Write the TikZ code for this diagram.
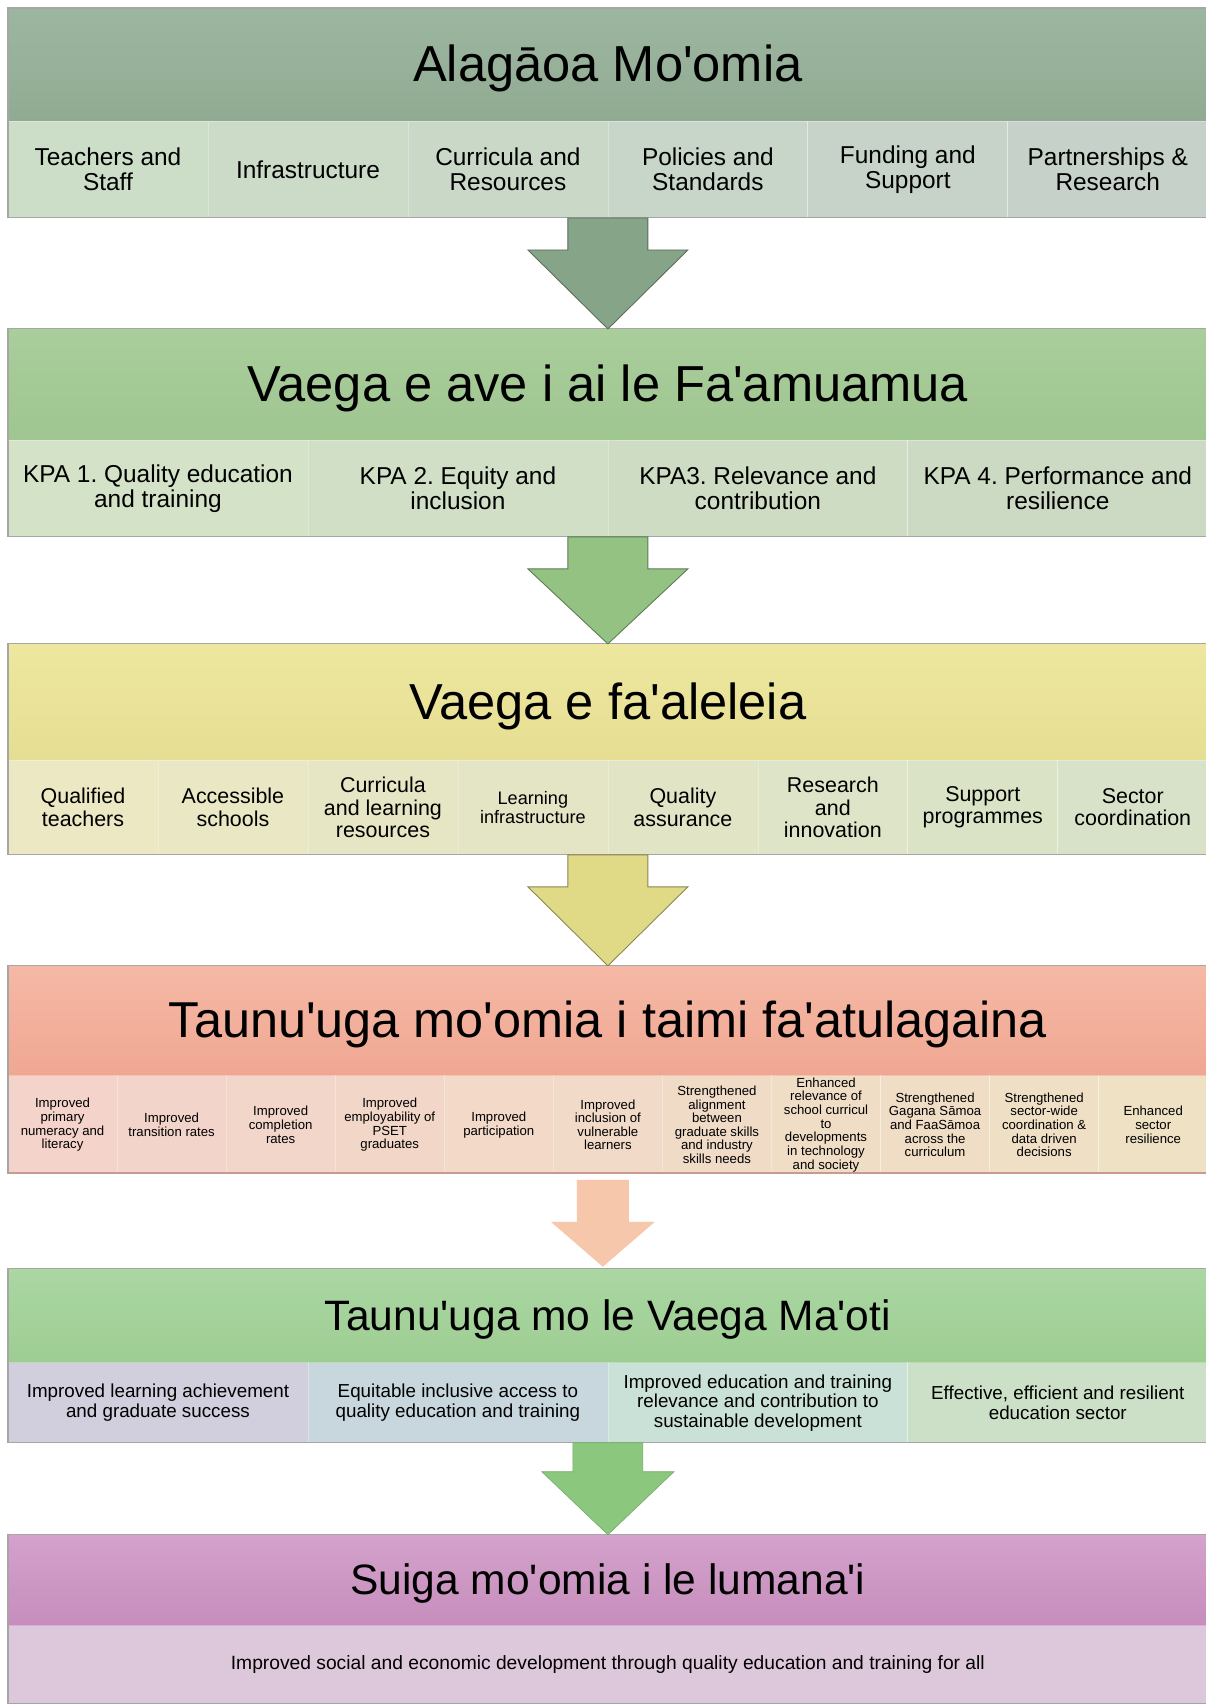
\documentclass[tikz,border=0pt]{standalone}
\usepackage{fontspec}
\setmainfont{Liberation Sans}[Ligatures=TeXOff]
\usepackage{xcolor}
\usepackage{tikz}
\usetikzlibrary{positioning, calc}
\frenchspacing
% header colours (top / bottom of the shading)
\definecolor{hAtop}{HTML}{9DB6A0}
\definecolor{hAbot}{HTML}{91AB93}
\definecolor{hBtop}{HTML}{A9CE9B}
\definecolor{hBbot}{HTML}{9FC591}
\definecolor{hCtop}{HTML}{EDE79F}
\definecolor{hCbot}{HTML}{E6DE92}
\definecolor{hDtop}{HTML}{F5B9A5}
\definecolor{hDbot}{HTML}{F0A792}
\definecolor{hEtop}{HTML}{AAD7A2}
\definecolor{hEbot}{HTML}{9ECD93}
\definecolor{hFtop}{HTML}{D4A2CC}
\definecolor{hFbot}{HTML}{C68DBC}
% row colours
\definecolor{rAl}{HTML}{CCDDC8}
\definecolor{rAr}{HTML}{C6D1C9}
\definecolor{rBl}{HTML}{D4E2C7}
\definecolor{rBr}{HTML}{CCD9C3}
\definecolor{rCl}{HTML}{ECE8C3}
\definecolor{rCr}{HTML}{D8E2C8}
\definecolor{rDl}{HTML}{F4D3CB}
\definecolor{rDr}{HTML}{EEE1C4}
\definecolor{rEa}{HTML}{D1CEDD}
\definecolor{rEb}{HTML}{C8D6DD}
\definecolor{rEc}{HTML}{C9E1D6}
\definecolor{rEd}{HTML}{CCE0C7}
\definecolor{rF}{HTML}{DDC7DA}
% arrow colours
\definecolor{arSage}{HTML}{86A588}
\definecolor{arSageD}{HTML}{5C6B5C}
\definecolor{arGreen}{HTML}{93C283}
\definecolor{arGreenD}{HTML}{5F7A55}
\definecolor{arYel}{HTML}{E0D986}
\definecolor{arYelD}{HTML}{8A8555}
\definecolor{arPeach}{HTML}{F6C7AB}
\definecolor{arLeaf}{HTML}{8CC77E}
\definecolor{arLeafD}{HTML}{78AF6B}
\definecolor{dsalmon}{HTML}{E98E78}

\begin{document}
\begin{tikzpicture}[
  x=0.02cm, y=-0.02cm,
  node distance=0pt,
  hdr/.style={rectangle, minimum width=24cm, inner sep=0pt, outer sep=0pt,
              align=center},
  bigtitle/.style={font=\fontsize{28.8}{30}\selectfont, text height=25.5pt, text depth=6pt},
  smalltitle/.style={font=\fontsize{24.2}{25}\selectfont, text height=21.3pt, text depth=5pt},
  cell/.style={rectangle, inner xsep=2pt, inner ysep=0pt, outer sep=0pt,
               align=center, draw=white, draw opacity=0.3, line width=0.4pt},
  cellA/.style={cell, minimum width=4cm, minimum height=1.94cm,
                font=\fontsize{13.9}{14.2}\selectfont},
  cellB/.style={cell, minimum width=6cm, minimum height=1.94cm,
                font=\fontsize{13.9}{14.2}\selectfont},
  cellC/.style={cell, minimum width=3cm, minimum height=1.9cm,
                font=\fontsize{12.2}{12.6}\selectfont},
  cellD/.style={cell, minimum width=2.1818cm, minimum height=1.96cm,
                inner xsep=0.5pt, font=\fontsize{7.5}{7.75}\selectfont},
  cellE/.style={cell, minimum width=6cm, minimum height=1.6cm,
                font=\fontsize{10.7}{11.1}\selectfont},
  cellF/.style={cell, minimum width=24cm, minimum height=1.56cm,
                font=\fontsize{10.95}{11.1}\selectfont},
  frame/.style={draw=gray!70, line width=0.6pt},
  blockA/.style={fill=arSage, draw=arSageD, line width=0.5pt},
  blockB/.style={fill=arGreen, draw=arGreenD, line width=0.5pt},
  blockC/.style={fill=arYel, draw=arYelD, line width=0.5pt},
  blockD/.style={fill=arPeach},
  blockE/.style={fill=arLeaf, draw=arLeafD, line width=0.4pt}
]
  \fill[white] (0,0) rectangle (1206,1704);
  \useasboundingbox (0,0) rectangle (1206,1704);

  % --- Alagaoa Mo'omia
  \node[hdr, bigtitle, minimum height=2.26cm, top color=hAtop, bottom color=hAbot,
        anchor=north west] (hd1) at (8,8) {Alagāoa Mo'omia};
  \node[cellA, fill=rAl, below right=0pt and 0pt of hd1.south west] (c1a)
    {Teachers and\\Staff};
  \node[cellA, fill=rAl!80!rAr, right=of c1a] (c1b) {Infrastructure};
  \node[cellA, fill=rAl!60!rAr, right=of c1b] (c1c) {Curricula and\\Resources};
  \node[cellA, fill=rAl!40!rAr, right=of c1c] (c1d) {Policies and\\Standards};
  \node[cellA, fill=rAl!20!rAr, right=of c1d] (c1e) {Funding and\\Support};
  \node[cellA, fill=rAr, right=of c1e] (c1f) {Partnerships \&\\Research};
  \draw[frame] (hd1.north west) rectangle (c1f.south east);

  % --- Vaega e ave i ai le Fa'amuamua
  \node[hdr, bigtitle, minimum height=2.22cm, top color=hBtop, bottom color=hBbot,
        below right=2.22cm and 0pt of c1a.south west] (hd2)
    {Vaega e ave i ai le Fa'amuamua};
  \node[cellB, fill=rBl, below right=0pt and 0pt of hd2.south west] (c2a)
    {KPA 1. Quality education\\and training};
  \node[cellB, fill=rBl!67!rBr, right=of c2a] (c2b) {KPA 2. Equity and\\inclusion};
  \node[cellB, fill=rBl!33!rBr, right=of c2b] (c2c) {KPA3. Relevance and\\contribution};
  \node[cellB, fill=rBr, right=of c2c] (c2d) {KPA 4. Performance and\\resilience};
  \draw[frame] (hd2.north west) rectangle (c2d.south east);

  % --- Vaega e fa'aleleia
  \node[hdr, bigtitle, minimum height=2.32cm, top color=hCtop, bottom color=hCbot,
        below right=2.14cm and 0pt of c2a.south west] (hd3) {Vaega e fa'aleleia};
  \node[cellC, fill=rCl, below right=0pt and 0pt of hd3.south west] (c3a)
    {Qualified\\teachers};
  \node[cellC, fill=rCl!86!rCr, right=of c3a] (c3b) {Accessible\\schools};
  \node[cellC, fill=rCl!71!rCr, right=of c3b] (c3c) {Curricula\\and learning\\resources};
  \node[cellC, fill=rCl!57!rCr, right=of c3c, font=\fontsize{10.3}{10.8}\selectfont] (c3d)
    {Learning\\infrastructure};
  \node[cellC, fill=rCl!43!rCr, right=of c3d] (c3e) {Quality\\assurance};
  \node[cellC, fill=rCl!29!rCr, right=of c3e] (c3f) {Research\\and\\innovation};
  \node[cellC, fill=rCl!14!rCr, right=of c3f] (c3g) {Support\\programmes};
  \node[cellC, fill=rCr, right=of c3g] (c3h) {Sector\\coordination};
  \draw[frame] (hd3.north west) rectangle (c3h.south east);

  % --- Taunu'uga mo'omia i taimi fa'atulagaina
  \node[hdr, bigtitle, minimum height=2.2cm, top color=hDtop, bottom color=hDbot,
        font=\fontsize{28.7}{30}\selectfont,
        below right=2.22cm and 0pt of c3a.south west] (hd4)
    {Taunu'uga mo'omia i taimi fa'atulagaina};
  \node[cellD, fill=rDl, below right=0pt and 0pt of hd4.south west] (c4a)
    {Improved\\primary\\numeracy and\\literacy};
  \node[cellD, fill=rDl!90!rDr, right=of c4a] (c4b) {Improved\\transition rates};
  \node[cellD, fill=rDl!80!rDr, right=of c4b] (c4c) {Improved\\completion\\rates};
  \node[cellD, fill=rDl!70!rDr, right=of c4c] (c4d)
    {Improved\\employability of\\PSET\\graduates};
  \node[cellD, fill=rDl!60!rDr, right=of c4d] (c4e) {Improved\\participation};
  \node[cellD, fill=rDl!50!rDr, right=of c4e] (c4f)
    {Improved\\inclusion of\\vulnerable\\learners};
  \node[cellD, fill=rDl!40!rDr, right=of c4f] (c4g)
    {Strengthened\\alignment\\between\\graduate skills\\and industry\\skills needs};
  \node[cellD, fill=rDl!30!rDr, right=of c4g] (c4h)
    {Enhanced\\relevance of\\school curricul\\to\\developments\\in technology\\and society};
  \node[cellD, fill=rDl!20!rDr, right=of c4h] (c4i)
    {Strengthened\\Gagana Sāmoa\\and FaaSāmoa\\across the\\curriculum};
  \node[cellD, fill=rDl!10!rDr, right=of c4i] (c4j)
    {Strengthened\\sector-wide\\coordination \&\\data driven\\decisions};
  \node[cellD, fill=rDr, right=of c4j] (c4k) {Enhanced\\sector\\resilience};
  \draw[dsalmon, line width=1.1pt] ([yshift=0.55pt]c4a.south west) -- ([yshift=0.55pt]c4k.south east);
  \draw[frame] (hd4.north west) rectangle (c4k.south east);

  % --- Taunu'uga mo le Vaega Ma'oti
  \node[hdr, smalltitle, minimum height=1.88cm, top color=hEtop, bottom color=hEbot,
        below right=1.9cm and 0pt of c4a.south west] (hd5)
    {Taunu'uga mo le Vaega Ma'oti};
  \node[cellE, fill=rEa, below right=0pt and 0pt of hd5.south west] (c5a)
    {Improved learning achievement\\and graduate success};
  \node[cellE, fill=rEb, right=of c5a] (c5b)
    {Equitable inclusive access to\\quality education and training};
  \node[cellE, fill=rEc, right=of c5b] (c5c)
    {Improved education and training\\relevance and contribution to\\sustainable development};
  \node[cellE, fill=rEd, right=of c5c] (c5d)
    {Effective, efficient and resilient\\education sector};
  \draw[frame] (hd5.north west) rectangle (c5d.south east);

  % --- Suiga mo'omia i le lumana'i
  \node[hdr, smalltitle, minimum height=1.82cm, top color=hFtop, bottom color=hFbot,
        below right=1.84cm and 0pt of c5a.south west] (hd6)
    {Suiga mo'omia i le lumana'i};
  \node[cellF, fill=rF, below right=0pt and 0pt of hd6.south west] (c6a)
    {Improved social and economic development through quality education and training for all};
  \draw[frame] (hd6.north west) rectangle (c6a.south east);

  % block arrows between the stages
  \filldraw[blockA] (hd1.south |- c1a.south) ++(-40,0) -- ++(0,32) -- ++(-40,0) coordinate (a1)
    -- (hd2.north) -- ($(a1)+(160,0)$) -- ++(-40,0) -- ++(0,-32) -- cycle;
  \filldraw[blockB] (hd2.south |- c2a.south) ++(-40,0) -- ++(0,32) -- ++(-40,0) coordinate (a2)
    -- (hd3.north) -- ($(a2)+(160,0)$) -- ++(-40,0) -- ++(0,-32) -- cycle;
  \filldraw[blockC] (hd3.south |- c3a.south) ++(-40,0) -- ++(0,32) -- ++(-40,0) coordinate (a3)
    -- (hd4.north) -- ($(a3)+(160,0)$) -- ++(-40,0) -- ++(0,-32) -- cycle;
  \fill[blockD] (hd4.south |- c4a.south) ++(-31,6) -- ++(0,42) -- ++(-26,0) coordinate (a4)
    -- ($(hd5.north)+(-5,-2)$) -- ($(a4)+(104,0)$) -- ++(-26,0) -- ++(0,-42) -- cycle;
  \filldraw[blockE] (hd5.south |- c5a.south) ++(-35,0) -- ++(0,29) -- ++(-31,0) coordinate (a5)
    -- (hd6.north) -- ($(a5)+(132,0)$) -- ++(-31,0) -- ++(0,-29) -- cycle;

\end{tikzpicture}
\end{document}
